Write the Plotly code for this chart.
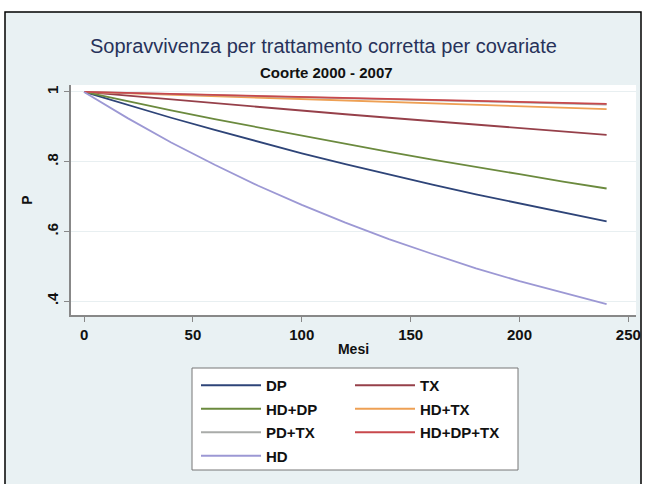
import plotly.graph_objects as go

# ---- data ----
months = [0, 20, 40, 60, 80, 100, 120, 140, 160, 180, 200, 220, 240]

dp = [1, .962, .926, .891, .857, .824, .793, .763, .734, .706, .680, .654, .629]
tx = [1, .989, .978, .968, .957, .947, .936, .926, .916, .906, .897, .887, .877]
hd_dp = [1, .973, .947, .922, .898, .874, .851, .828, .806, .784, .764, .743, .723]
hd_tx = [1, .996, .992, .988, .983, .979, .975, .971, .967, .963, .959, .955, .951]
pd_tx = [1, .997, .994, .991, .988, .985, .982, .979, .976, .973, .970, .967, .964]
hd_dp_tx = [1, .997, .994, .991, .989, .986, .983, .980, .977, .974, .972, .969, .966]
hd = [1, .925, .855, .791, .731, .676, .625, .578, .535, .494, .457, .423, .391]

names = ["DP", "TX", "HD+DP", "HD+TX", "PD+TX", "HD+DP+TX", "HD"]
series = [dp, tx, hd_dp, hd_tx, pd_tx, hd_dp_tx, hd]
colors = ["#2e4478", "#96404a", "#6b8a3e", "#eea054", "#a9aba9", "#c8484c", "#9c98d4"]
legend_of = ["legend", "legend2", "legend", "legend2", "legend", "legend2", "legend"]

x_ticks = [0, 50, 100, 150, 200, 250]
y_ticks = [0.4, 0.6, 0.8, 1.0]
y_ticklabels = [".4", ".6", ".8", "1"]

title = "Sopravvivenza per trattamento corretta per covariate"
subtitle = "<b>Coorte 2000 - 2007</b>"

BG = "#e9f1f3"
FONT = "Liberation Sans, Arial, sans-serif"

fig = go.Figure()
for n, s, c, lg in zip(names, series, colors, legend_of):
    fig.add_trace(go.Scatter(x=months, y=s, mode="lines", name="<b>%s</b>" % n,
                             line=dict(color=c, width=1.8),
                             legend=lg, legendgroup=n))

W, H = 646, 484
L, R, T, B = 71, 10, 85, 169
pw, ph = W - L - R, H - T - B


def px(xp):
    return (xp - L) / pw


def py(yp):
    return (H - B - yp) / ph


fig.update_layout(
    width=W, height=H,
    margin=dict(l=L, r=R, t=T, b=B, autoexpand=False),
    paper_bgcolor="white",
    plot_bgcolor="white",
    font=dict(family=FONT, size=15, color="#111"),
    showlegend=True,
    xaxis=dict(range=[-6, 253.5], tickvals=x_ticks,
               ticktext=["<b>%d</b>" % v for v in x_ticks],
               ticks="outside", ticklen=5, ticklabelstandoff=0,
               tickcolor="#888", showline=True, linecolor="#888", linewidth=1.5,
               showgrid=False, zeroline=False,
               title=dict(text="<b>Mesi</b>", standoff=2, font=dict(size=14)),
               tickfont=dict(size=15)),
    yaxis=dict(range=[0.36, 1.02], tickvals=y_ticks,
               ticktext=["<b>%s</b>" % t for t in y_ticklabels],
               tickangle=-90, ticks="outside", ticklen=5, tickcolor="#888",
               showline=True, linecolor="#888", linewidth=1.5,
               showgrid=True, gridcolor="#e8eff1", gridwidth=1, zeroline=False,
               title=dict(text="<b>P</b>", standoff=8, font=dict(size=14)),
               tickfont=dict(size=15)),
    legend=dict(x=px(196), y=py(369), xanchor="left", yanchor="top",
                bgcolor="rgba(0,0,0,0)", borderwidth=0, tracegroupgap=1,
                itemwidth=60, font=dict(size=15), traceorder="grouped"),
    legend2=dict(x=px(350), y=py(369), xanchor="left", yanchor="top",
                 bgcolor="rgba(0,0,0,0)", borderwidth=0, tracegroupgap=1,
                 itemwidth=60, font=dict(size=15), traceorder="grouped"),
    shapes=[
        dict(type="rect", xref="paper", yref="paper", x0=px(5), x1=px(641),
             y0=py(490), y1=py(12), fillcolor=BG, line=dict(color="black", width=1.5),
             layer="below"),
        dict(type="rect", xref="paper", yref="paper", x0=0, x1=1, y0=0, y1=1,
             fillcolor="white", line=dict(width=0), layer="below"),
        dict(type="rect", xref="paper", yref="paper", x0=px(192), x1=px(518),
             y0=py(470), y1=py(368), fillcolor="white",
             line=dict(color="#777", width=1), layer="below"),
    ],
    annotations=[
        dict(text=title, xref="paper", yref="paper", x=px(323), y=py(46),
             xanchor="center", yanchor="middle", showarrow=False,
             font=dict(size=20, color="#27325a")),
        dict(text=subtitle, xref="paper", yref="paper", x=px(326), y=py(72),
             xanchor="center", yanchor="middle", showarrow=False,
             font=dict(size=15, color="#111")),
    ],
)

fig.write_html("out.html", config={"displayModeBar": False},
               post_script="document.body.style.margin='0px';")
